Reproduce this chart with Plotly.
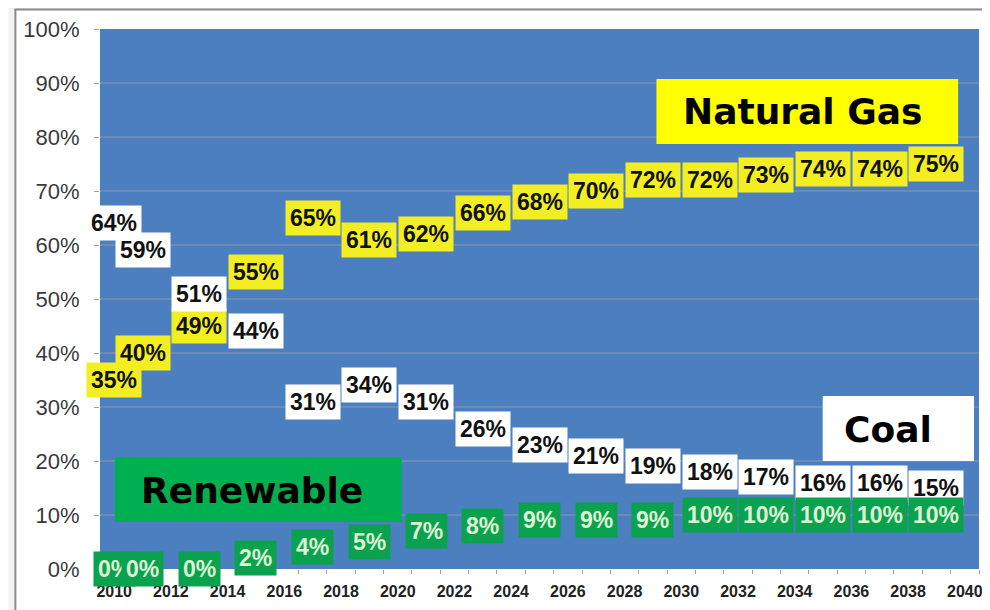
import plotly.graph_objects as go

# ---- data ----
years = [2010, 2011, 2013, 2015, 2017, 2019, 2021, 2023, 2025, 2027, 2029, 2031, 2033, 2035, 2037, 2039]
natural_gas = [35, 40, 49, 55, 65, 61, 62, 66, 68, 70, 72, 72, 73, 74, 74, 75]
coal = [64, 59, 51, 44, 31, 34, 31, 26, 23, 21, 19, 18, 17, 16, 16, 15]
renewable = [0, 0, 0, 2, 4, 5, 7, 8, 9, 9, 9, 10, 10, 10, 10, 10]
tick_years = list(range(2010, 2041, 2))
y_ticks = list(range(0, 101, 10))
y_tick_text = [f"{v}%" for v in y_ticks]

# ---- geometry helpers (screen pixel -> paper); page body has an 8px margin ----
O = 8
SW, SH = 990, 610
W, H = SW - O, SH - O
L, R, T, B = 100 - O, 7, 29 - O, 41
PW, PH = W - L - R, H - T - B


def px(x):
    return (x - O - L) / PW


def py(y):
    return (H - B - (y - O)) / PH


fig = go.Figure()

series = [
    ("Natural Gas", natural_gas, "#F3EE22", "#111111"),
    ("Coal", coal, "#FFFFFF", "#111111"),
    ("Renewable", renewable, "#0AA24E", "#DDF5D5"),
]

for name, vals, bg, fc in series:
    fig.add_trace(go.Scatter(x=years, y=vals, mode="markers", name=name,
                             marker=dict(size=1, opacity=0), hoverinfo="x+y+name"))

annotations = []
for name, vals, bg, fc in series:
    for i, (x, v) in enumerate(zip(years, vals)):
        shift = 0
        if name == "Natural Gas" and abs(v - coal[i]) < 5 and v < coal[i]:
            shift = -22
        annotations.append(dict(
            x=x, y=v, xref="x", yref="y", text=f"{v}%", showarrow=False,
            xanchor="center", yanchor="middle", yshift=shift,
            bgcolor=bg, borderpad=4,
            font=dict(family="Liberation Sans, Arial, sans-serif", size=23, color=fc, weight="bold"),
        ))

# big category labels
big = [
    ("Natural Gas", (659, 79, 962, 144), "#FFFF00", (806, 112)),
    ("Coal", (826, 396, 978, 461), "#FFFFFF", (892, 429)),
    ("Renewable", (115, 457, 403, 522), "#00B050", (253, 490)),
]
shapes = []
for text, (x0, y0, x1, y1), col, (tx, ty) in big:
    shapes.append(dict(type="rect", xref="paper", yref="paper",
                       x0=px(x0), x1=px(x1), y0=py(y1), y1=py(y0),
                       fillcolor=col, line=dict(width=0), layer="above"))
    annotations.append(dict(x=px(tx), y=py(ty), xref="paper", yref="paper", text=text,
                            showarrow=False, xanchor="center", yanchor="middle",
                            font=dict(family="DejaVu Sans, Verdana, sans-serif", size=36,
                                      color="#000000", weight="bold")))

# surrounding screenshot frame
frame = [
    dict(type="rect", x0=px(O), x1=px(990), y0=py(9), y1=py(O), fillcolor="#EFEFEF"),
    dict(type="rect", x0=px(O), x1=px(14), y0=py(610), y1=py(9), fillcolor="#F3F3F3"),
]
for f in frame:
    f.update(xref="paper", yref="paper", line=dict(width=0), layer="below")
    shapes.append(f)
shapes += [
    dict(type="line", xref="paper", yref="paper", x0=px(14), x1=px(990), y0=py(9.5), y1=py(9.5),
         line=dict(color="#8A8A8A", width=2)),
    dict(type="line", xref="paper", yref="paper", x0=px(15), x1=px(15), y0=py(610), y1=py(9),
         line=dict(color="#8A8A8A", width=2)),
]

fig.update_layout(
    width=W, height=H,
    margin=dict(l=L, r=R, t=T, b=B),
    paper_bgcolor="#FFFFFF",
    plot_bgcolor="#4C7FBF",
    showlegend=False,
    annotations=annotations,
    shapes=shapes,
)
fig.update_xaxes(
    range=[2009.5, 2040.5], tickmode="array", tickvals=tick_years,
    ticktext=[str(t) for t in tick_years], ticks="", showgrid=False, zeroline=False,
    tickfont=dict(family="Liberation Sans, Arial, sans-serif", size=16, color="#222222", weight="bold"),
    ticklabelstandoff=11,
    minor=dict(tickmode="linear", tick0=2009.5, dtick=1, ticks="outside", ticklen=4,
               tickcolor="#A0A0A0", showgrid=False),
)
fig.update_yaxes(
    range=[0, 100], tickmode="array", tickvals=y_ticks, ticktext=y_tick_text,
    ticks="outside", ticklen=5, tickcolor="#A0A0A0",
    showgrid=True, gridcolor="#6C8CB6", gridwidth=1.5, zeroline=False,
    tickfont=dict(family="Liberation Sans, Arial, sans-serif", size=22, color="#3A3A3A"),
    ticklabelstandoff=10,
)

fig.write_html("out.html")
